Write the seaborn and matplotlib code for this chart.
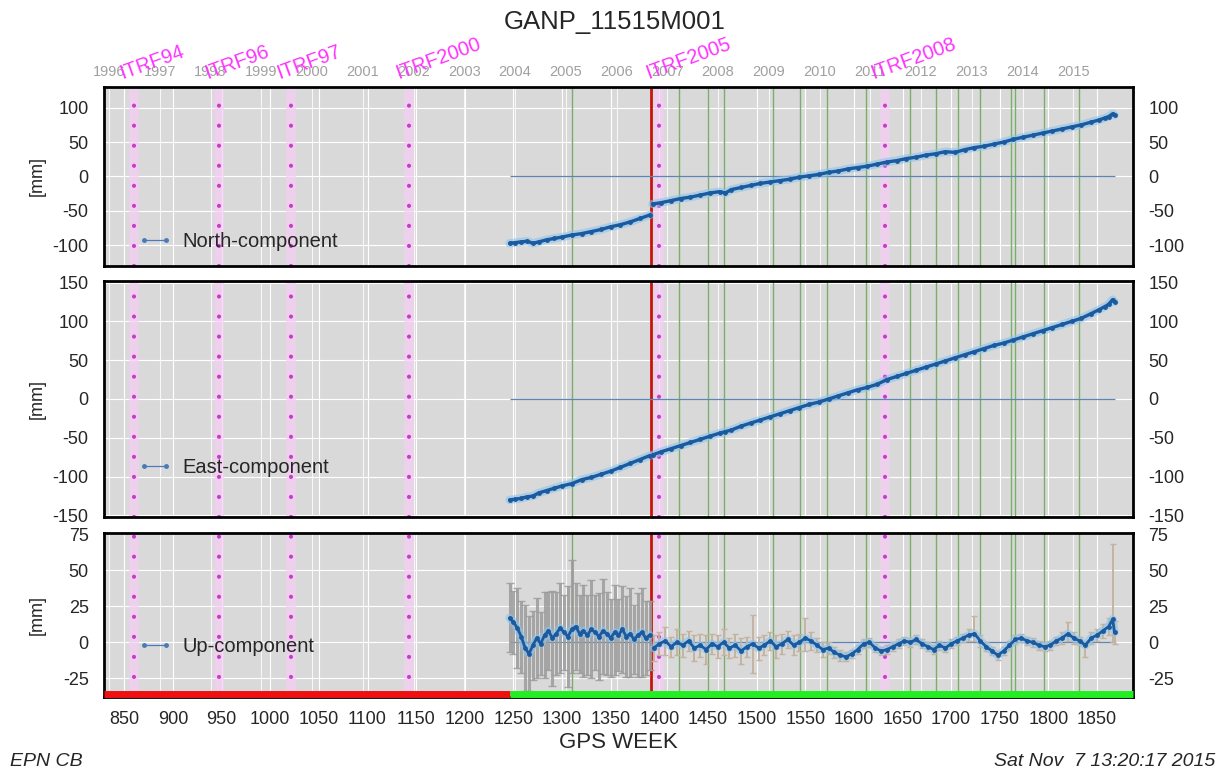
"""
EPN station time series: North / East / Up components vs GPS week
"""
import datetime
import matplotlib
matplotlib.use('Agg')
import matplotlib.pyplot as plt
import matplotlib.transforms as mtransforms
from matplotlib.lines import Line2D
import numpy as np
import pandas as pd
import seaborn as sns

# ---------------- data ----------------
station = 'GANP_11515M001'

north_weeks = [1246, 1252, 1258, 1264, 1270, 1276, 1284, 1292, 1300, 1310,
               1320, 1330, 1340, 1350, 1360, 1370, 1380, 1390,
               1393, 1402, 1412, 1422, 1432, 1442, 1452, 1462, 1468, 1474,
               1484, 1494, 1504, 1514, 1524, 1534, 1544, 1554, 1564, 1574,
               1584, 1594, 1604, 1614, 1624, 1634, 1644, 1654, 1664, 1674,
               1684, 1694, 1704, 1714, 1724, 1734, 1744, 1754, 1764, 1774,
               1784, 1794, 1804, 1814, 1824, 1834, 1844, 1852, 1858, 1862,
               1866, 1868]
north_mm = [-97, -96, -95, -94, -97, -95, -92, -90, -88, -85,
            -83, -80, -77, -73, -70, -66, -61, -56,
            -40, -38, -35, -32, -30, -27, -24, -22, -24, -19,
            -16, -13, -10, -8, -6, -4, -1, 1, 3, 6,
            8, 11, 13, 15, 18, 21, 23, 26, 28, 31,
            33, 36, 35, 39, 42, 44, 47, 50, 54, 57,
            60, 63, 66, 69, 72, 75, 79, 82, 85, 87,
            91, 89]

east_weeks = north_weeks
east_mm = [-130, -129, -128, -126, -125, -121, -118, -115, -112, -109,
           -104, -101, -97, -93, -88, -83, -78, -73,
           -72, -68, -64, -60, -56, -52, -48, -44, -42, -40,
           -35, -31, -27, -23, -19, -15, -11, -7, -4, 0,
           4, 8, 12, 15, 19, 25, 29, 33, 37, 41,
           45, 49, 53, 57, 61, 65, 69, 72, 76, 80,
           84, 88, 92, 96, 100, 104, 110, 115, 119, 122,
           128, 125]

up_weeks = [1246, 1250, 1254, 1258, 1262, 1266, 1270, 1274, 1278, 1282,
            1286, 1290, 1294, 1298, 1302, 1306, 1310, 1314, 1318, 1322,
            1326, 1330, 1334, 1338, 1342, 1346, 1350, 1354, 1358, 1362,
            1366, 1370, 1374, 1378, 1382, 1386, 1390,
            1394, 1400, 1406, 1412, 1418, 1424, 1430, 1436, 1442, 1448,
            1454, 1460, 1466, 1472, 1478, 1484, 1490, 1496, 1502, 1508,
            1514, 1520, 1526, 1532, 1538, 1544, 1550, 1556, 1562, 1568,
            1574, 1580, 1586, 1592, 1598, 1604, 1610, 1616, 1622, 1628,
            1634, 1640, 1646, 1652, 1658, 1664, 1670, 1676, 1682, 1688,
            1694, 1700, 1706, 1712, 1718, 1724, 1730, 1736, 1742, 1748,
            1754, 1760, 1766, 1772, 1778, 1784, 1790, 1796, 1802, 1808,
            1814, 1820, 1826, 1832, 1838, 1844, 1850, 1856, 1862, 1866,
            1868]
up_mm = [17, 14, 10, 4, -4, -8, -2, 3, -1, 5,
         8, 3, 6, 10, 7, 4, 9, 11, 6, 8,
         5, 9, 7, 4, 8, 6, 3, 7, 5, 9,
         4, 6, 2, 5, 7, 3, 5,
         -4, -1, 1, -3, 0, -2, 1, -4, -2, -5,
         -1, -3, 0, -4, -2, -6, -3, -1, -4, -2,
         1, -3, -1, 2, -2, 0, 3, 1, -2, -5,
         -4, -7, -9, -10, -8, -5, -1, 0, -4, -6,
         -5, -3, -1, 1, 0, 2, -1, -3, -5, -2,
         -4, -1, 1, 3, 5, 6, 1, -3, -6, -9,
         -6, -2, 2, 3, 1, 0, -2, -3, -2, 1,
         3, 6, 3, 1, -2, 3, 5, 8, 11, 16,
         7]
# lower / upper error bar lengths
up_err_lo = [24, 22, 28, 25, 30, 26, 24, 28, 22, 30,
             27, 33, 29, 31, 26, 35, 30, 30, 27, 32,
             28, 34, 26, 30, 30, 29, 27, 30, 25, 30,
             28, 30, 24, 29, 31, 26, 24,
             9, 8, 10, 7, 9, 8, 7, 9, 8, 10,
             7, 8, 9, 7, 8, 9, 7, 20, 8, 7,
             6, 8, 7, 6, 7, 6, 9, 6, 5, 5,
             4, 4, 4, 3, 3, 3, 3, 3, 3, 3,
             3, 3, 3, 3, 3, 3, 3, 3, 3, 3,
             3, 3, 3, 3, 4, 5, 4, 3, 3, 3,
             3, 3, 3, 3, 3, 3, 3, 3, 3, 3,
             4, 5, 4, 3, 8, 4, 4, 5, 6, 16,
             8]
up_err_hi = [24, 22, 28, 25, 30, 26, 24, 28, 22, 30,
             27, 33, 29, 31, 26, 35, 48, 30, 27, 32,
             28, 34, 26, 30, 36, 29, 27, 33, 25, 30,
             28, 32, 24, 29, 31, 26, 24,
             9, 8, 10, 7, 9, 8, 7, 9, 8, 10,
             7, 8, 9, 7, 8, 9, 7, 20, 8, 7,
             6, 8, 7, 6, 7, 6, 14, 6, 5, 5,
             4, 4, 4, 3, 3, 3, 3, 3, 3, 3,
             3, 3, 3, 3, 3, 3, 3, 3, 3, 3,
             3, 3, 3, 3, 4, 12, 4, 3, 3, 3,
             3, 3, 3, 3, 3, 3, 3, 3, 3, 3,
             4, 8, 4, 3, 3, 4, 4, 5, 6, 52,
             8]

break_week = 1391          # red line: discontinuity
itrf_names = ['ITRF94', 'ITRF96', 'ITRF97', 'ITRF2000', 'ITRF2005', 'ITRF2008']
itrf_weeks = [860, 947, 1021, 1143, 1400, 1632]
equip_weeks = [1310, 1420, 1450, 1466, 1517, 1545, 1572, 1612, 1658,
               1684, 1707, 1730, 1762, 1766, 1795, 1831]
years = list(range(1996, 2016))
status_change_week = 1246  # red -> green status bar

# ---------------- style ----------------
sns.set_theme(style='darkgrid', rc={'axes.facecolor': '#d9d9d9',
                                    'grid.color': 'white',
                                    'grid.linewidth': 0.8})
plt.rcParams['font.family'] = ['Liberation Sans', 'DejaVu Sans']
plt.rcParams['axes.unicode_minus'] = False

BLUE = '#1b5a9e'
HALO = '#8cc4ee'
xlim = (829, 1887)

gps0 = datetime.date(1980, 1, 6)
year_weeks = [(datetime.date(y, 1, 1) - gps0).days / 7.0 for y in years]


def segment(weeks):
    return ['a' if w < break_week else 'b' for w in weeks]


df_n = pd.DataFrame({'week': north_weeks, 'mm': north_mm, 'seg': segment(north_weeks)})
df_e = pd.DataFrame({'week': east_weeks, 'mm': east_mm, 'seg': segment(east_weeks)})
df_u = pd.DataFrame({'week': up_weeks, 'mm': up_mm, 'lo': up_err_lo, 'hi': up_err_hi,
                     'seg': segment(up_weeks)})

fig = plt.figure(figsize=(12.29, 7.73), dpi=100)
left, width = 0.0846, 0.8373
ax1 = fig.add_axes([left, 0.6559, width, 0.2316])
ax2 = fig.add_axes([left, 0.3312, width, 0.3053])
ax3 = fig.add_axes([left, 0.0983, width, 0.2122])

panels = [
    (ax1, df_n, (-130, 130), [-100, -50, 0, 50, 100], 'North-component', 0.134),
    (ax2, df_e, (-152, 152), [-150, -100, -50, 0, 50, 100, 150], 'East-component', 0.208),
    (ax3, df_u, (-38, 76), [-25, 0, 25, 50, 75], 'Up-component', 0.305),
]

for ax, df, ylim, yticks, name, leg_y in panels:
    ax.set_xlim(*xlim)
    ax.set_ylim(*ylim)
    ax.set_yticks(yticks)
    ax.set_xticks(range(850, 1851, 50))
    ax.grid(True, color='white', lw=0.8, zorder=0)
    for yw in year_weeks:
        ax.axvline(yw, color='white', lw=0.8, alpha=0.8, zorder=0.5)

    # equipment changes, ITRF changes, discontinuity
    for w in equip_weeks:
        ax.axvline(w, color='#7aae6a', lw=1, zorder=1)
    for w in itrf_weeks:
        ax.axvline(w, color='#f5cdf5', lw=7, alpha=0.7, zorder=1.2)
        ax.axvline(w, color='#c83cc8', lw=3, ls=(0, (0.01, 4.8)),
                   dash_capstyle='round', zorder=1.3)
    ax.axvline(break_week, color='#cc1111', lw=2, zorder=1.5)

    # zero reference
    ax.hlines(0, df['week'].min(), df['week'].max(), color='#5a86b8', lw=0.9, zorder=1.6)

    if ax is ax3:
        pre = df['week'] < break_week
        ax.errorbar(df.loc[pre, 'week'], df.loc[pre, 'mm'],
                    yerr=[df.loc[pre, 'lo'], df.loc[pre, 'hi']],
                    fmt='none', ecolor='#9c9c9c', elinewidth=2.2, alpha=0.85,
                    capsize=3, zorder=2)
        ax.errorbar(df.loc[~pre, 'week'], df.loc[~pre, 'mm'],
                    yerr=[df.loc[~pre, 'lo'], df.loc[~pre, 'hi']],
                    fmt='none', ecolor='#c4b3a0', elinewidth=1.4, capsize=2.5, zorder=2)

    for _, g in df.groupby('seg'):
        ax.plot(g['week'], g['mm'], color=HALO, lw=6, alpha=0.6,
                solid_capstyle='round', zorder=2.5)
    sns.lineplot(data=df, x='week', y='mm', units='seg', estimator=None,
                 color=BLUE, lw=2.0 if ax is ax3 else 2.4, marker='o', markersize=3.5,
                 markeredgewidth=0, sort=False, ax=ax, zorder=3)

    ax.set_xlabel('')
    ax.set_ylabel('[mm]', fontsize=13)
    ax.yaxis.set_label_coords(-0.057, 0.5)
    ax.tick_params(axis='y', left=False, right=False, labelleft=True,
                   labelright=True, labelsize=13, pad=5)
    ax.tick_params(axis='x', bottom=False, top=False, labelbottom=(ax is ax3),
                   labelsize=13, pad=4)
    for s in ax.spines.values():
        s.set_visible(True)
        s.set_color('black')
        s.set_linewidth(2)

    handle = Line2D([], [], color='#4a7ab8', lw=0.9, marker='o', markersize=2.5)
    ax.legend([handle], [name], loc='center left', bbox_to_anchor=(0.033, leg_y),
              frameon=False, numpoints=2, handlelength=1.7, handletextpad=0.5,
              borderpad=0, borderaxespad=0, fontsize=14.5)

# status bar at bottom of the Up panel
trans = ax3.get_xaxis_transform()
ax3.plot([xlim[0], status_change_week], [0.021, 0.021], transform=trans,
         color='#ee1111', lw=5, solid_capstyle='butt', zorder=6, clip_on=False)
ax3.plot([status_change_week, xlim[1]], [0.021, 0.021], transform=trans,
         color='#22ee22', lw=5, solid_capstyle='butt', zorder=6, clip_on=False)
ax3.set_xlabel('GPS WEEK', fontsize=16, labelpad=3)

# year axis on top
sec = ax1.secondary_xaxis('top')
sec.set_xticks(year_weeks, labels=[str(y) for y in years])
sec.tick_params(length=0, labelsize=10.5, labelcolor='#a0a0a0', pad=6)
sec.spines['top'].set_visible(False)

# ITRF labels
itrf_trans = mtransforms.blended_transform_factory(ax1.transData, ax1.transAxes)
for name, w in zip(itrf_names, itrf_weeks):
    ax1.text(w - 12, 1.045, name, transform=itrf_trans, rotation=20,
             rotation_mode='anchor', ha='left', va='baseline',
             color='#ff33ff', fontsize=14.5, clip_on=False, zorder=10)

fig.text(0.5, 1 - 22 / 773, station, ha='center', va='center', fontsize=18.5)
fig.text(10 / 1229, 1 - 762 / 773, 'EPN CB', ha='left', va='center',
         style='italic', fontsize=14)
fig.text(1215 / 1229, 1 - 762 / 773, 'Sat Nov  7 13:20:17 2015', ha='right',
         va='center', style='italic', fontsize=14)

fig.savefig('out.png', dpi=100)
